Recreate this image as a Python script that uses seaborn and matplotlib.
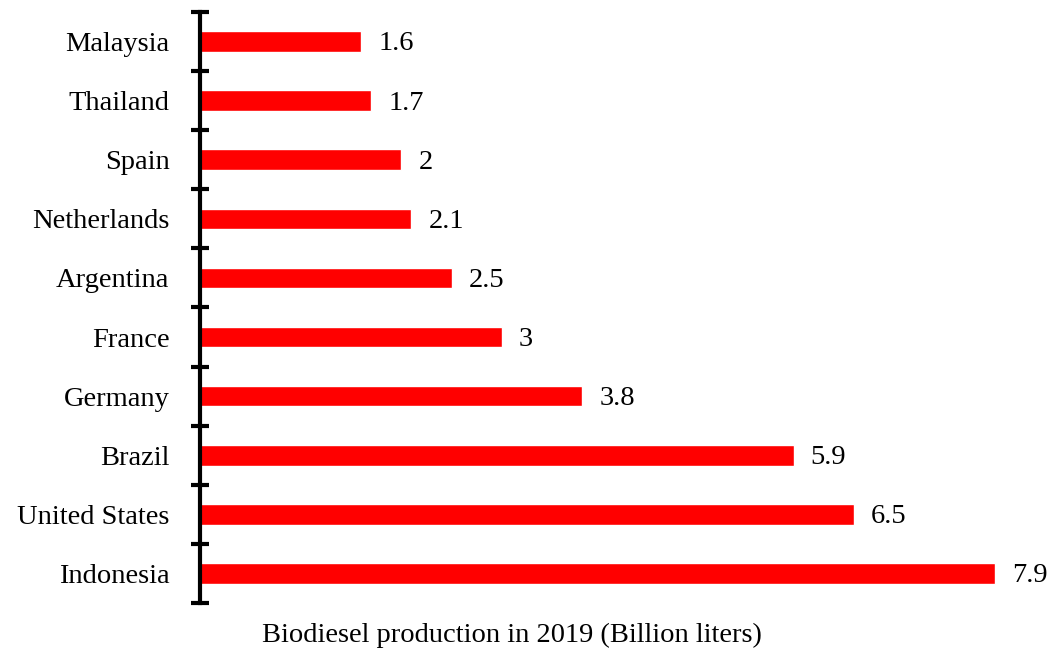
import matplotlib
matplotlib.use("Agg")
import matplotlib.pyplot as plt
import seaborn as sns
import pandas as pd
import numpy as np

countries = ["Malaysia", "Thailand", "Spain", "Netherlands", "Argentina",
             "France", "Germany", "Brazil", "United States", "Indonesia"]
values = [1.6, 1.7, 2, 2.1, 2.5, 3, 3.8, 5.9, 6.5, 7.9]
value_labels = ["1.6", "1.7", "2", "2.1", "2.5", "3", "3.8", "5.9", "6.5", "7.9"]
xlabel = "Biodiesel production in 2019 (Billion liters)"

sns.set_theme(style="white")
plt.rcParams['font.family'] = ['Liberation Serif', 'DejaVu Serif']
FS = 20.5

df = pd.DataFrame({"country": countries, "value": values})

fig = plt.figure(figsize=(10.62, 6.49), dpi=100)
ax = fig.add_axes([200/1062, 1 - 603/649, (1050 - 200)/1062, (603 - 12)/649])

sns.barplot(data=df, y="country", x="value", orient="h", color="#FF0000",
            saturation=1, width=0.35, ax=ax, order=countries)

ax.set_xlim(0, 850/100.6)
ax.set_ylim(len(countries) - 0.5, -0.5)

for i, (v, lab) in enumerate(zip(values, value_labels)):
    ax.text(v + 0.17, i + 0.04, lab, va="center", ha="left", fontsize=FS, color="black")

for s in ["top", "right", "bottom"]:
    ax.spines[s].set_visible(False)
ax.spines["left"].set_linewidth(3)
ax.spines["left"].set_color("black")

ax.set_xticks([])
ax.set_yticks(np.arange(-0.5, len(countries), 1.0))
ax.set_yticklabels([])
ax.tick_params(axis="y", which="major", direction="inout", length=13, width=3, color="black", left=True)
ax.set_yticks(np.arange(len(countries)), minor=True)
ax.set_yticklabels(countries, minor=True, fontsize=FS, color="black")
ax.tick_params(axis="y", which="minor", length=0, pad=22, labelcolor="black")

ax.set_ylabel("")
ax.set_xlabel(xlabel, fontsize=FS, color="black")
ax.xaxis.set_label_coords((512 - 200) / 850, -0.033)

fig.savefig("out.png", dpi=100)
